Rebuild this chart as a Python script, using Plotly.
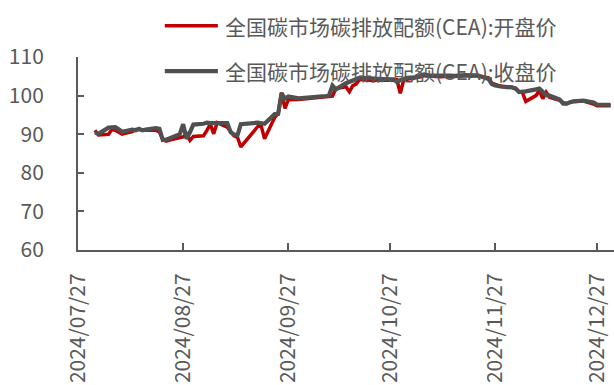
import plotly.graph_objects as go

# Trading days of the national carbon market (CEA), Aug-Dec 2024
trade_dates = [
    "2024-08-01", "2024-08-02", "2024-08-05", "2024-08-06", "2024-08-07", "2024-08-08", "2024-08-09",
    "2024-08-12", "2024-08-13", "2024-08-14", "2024-08-15", "2024-08-16", "2024-08-19", "2024-08-20",
    "2024-08-21", "2024-08-22", "2024-08-23", "2024-08-26", "2024-08-27", "2024-08-28", "2024-08-29",
    "2024-08-30",
    "2024-09-02", "2024-09-03", "2024-09-04", "2024-09-05", "2024-09-06", "2024-09-09", "2024-09-10",
    "2024-09-11", "2024-09-12", "2024-09-13", "2024-09-18", "2024-09-19", "2024-09-20", "2024-09-23",
    "2024-09-24", "2024-09-25", "2024-09-26", "2024-09-27", "2024-09-30",
    "2024-10-08", "2024-10-09", "2024-10-10", "2024-10-11", "2024-10-14", "2024-10-15", "2024-10-16",
    "2024-10-17", "2024-10-18", "2024-10-21", "2024-10-22", "2024-10-23", "2024-10-24", "2024-10-25",
    "2024-10-28", "2024-10-29", "2024-10-30", "2024-10-31",
    "2024-11-01", "2024-11-04", "2024-11-05", "2024-11-06", "2024-11-07", "2024-11-08", "2024-11-11",
    "2024-11-12", "2024-11-13", "2024-11-14", "2024-11-15", "2024-11-18", "2024-11-19", "2024-11-20",
    "2024-11-21", "2024-11-22", "2024-11-25", "2024-11-26", "2024-11-27", "2024-11-28", "2024-11-29",
    "2024-12-02", "2024-12-03", "2024-12-04", "2024-12-05", "2024-12-06", "2024-12-09", "2024-12-10",
    "2024-12-11", "2024-12-12", "2024-12-13", "2024-12-16", "2024-12-17", "2024-12-18", "2024-12-19",
    "2024-12-20", "2024-12-23", "2024-12-24", "2024-12-25", "2024-12-26", "2024-12-27", "2024-12-30",
    "2024-12-31",
]

# Opening price (yuan/t)
open_price = [
    91.0, 89.8, 90.0, 91.2, 91.0, 90.4, 90.0, 90.7, 91.2, 91.2, 91.1, 91.0, 91.0, 90.6, 88.6, 88.2,
    88.5, 89.0, 89.3, 90.1, 88.4, 89.4,
    89.6, 91.0, 92.6, 90.1, 93.0, 91.8, 90.5, 89.6, 89.2, 86.7, 92.0, 92.2, 88.8, 94.4, 95.3, 100.8,
    96.7, 98.9, 99.0,
    99.6, 99.7, 99.9, 101.8, 102.3, 101.0, 102.6, 103.0, 104.2, 104.0, 103.8, 104.0, 104.1, 104.0,
    104.0, 104.1, 100.6, 104.0,
    104.2, 104.6, 104.9, 105.2, 105.0, 105.0, 104.9, 105.0, 105.0, 104.9, 105.0, 105.1, 105.2, 105.0,
    105.2, 105.1, 104.6, 103.2, 102.8, 102.6, 102.4,
    102.2, 101.9, 101.0, 100.8, 98.5, 100.0, 101.3, 99.2, 100.9, 99.6, 98.8, 98.2, 97.9, 98.2, 98.5,
    98.6, 98.4, 98.0, 97.8, 97.4, 97.3, 97.4,
]

# Closing price (yuan/t)
close_price = [
    90.5, 90.1, 91.7, 91.8, 91.8, 91.3, 90.6, 91.2, 91.0, 91.4, 91.0, 91.2, 91.6, 91.4, 88.5, 88.6,
    88.9, 90.0, 92.6, 88.8, 90.5, 92.5,
    92.7, 93.0, 92.9, 92.9, 93.1, 92.9, 90.5, 89.9, 89.7, 92.6, 93.0, 92.8, 92.7, 95.2, 95.3, 100.6,
    99.2, 99.8, 99.3,
    99.9, 100.1, 102.6, 101.6, 103.2, 103.6, 103.9, 104.2, 104.6, 104.5, 104.4, 104.3, 104.2, 104.3,
    104.2, 103.5, 104.0, 104.4,
    104.6, 104.8, 105.1, 105.5, 105.3, 105.2, 105.2, 105.1, 105.2, 105.2, 105.1, 105.3, 105.3, 105.4,
    105.3, 105.2, 104.3, 103.0, 102.6, 102.4, 102.3,
    102.1, 101.8, 100.9, 100.9, 101.1, 101.6, 101.8, 101.0, 100.1, 100.0, 99.0, 97.9, 97.9, 98.3,
    98.5, 98.7, 98.6, 98.4, 98.2, 97.7, 97.6, 97.6,
]

series_names = ["全国碳市场碳排放配额(CEA):开盘价", "全国碳市场碳排放配额(CEA):收盘价"]
series_colors = ["#C00000", "#505050"]
series_widths = [3.5, 4.2]

FONT = "Noto Sans CJK SC"
TEXT = "#595959"
AXIS = "#5a5a5a"

fig = go.Figure()
for name, vals, color, w in zip(series_names, [open_price, close_price], series_colors, series_widths):
    fig.add_trace(go.Scatter(
        x=trade_dates, y=vals, mode="lines", name=name,
        line=dict(color=color, width=w), showlegend=False,
    ))

# Hand-drawn legend: long line samples with labels, overlapping the top of the plot
legend_y = [1.162, 0.927]
for y, name, color, w in zip(legend_y, series_names, series_colors, series_widths):
    fig.add_shape(type="line", xref="paper", yref="paper",
                  x0=0.162, x1=0.261, y0=y, y1=y,
                  line=dict(color=color, width=w), layer="above")
    fig.add_annotation(xref="paper", yref="paper", x=0.271, y=y,
                       text=name, showarrow=False, xanchor="left", yanchor="middle",
                       font=dict(family=FONT, size=21, color=TEXT))

fig.update_layout(
    width=614, height=385,
    margin=dict(l=78, r=0, t=57, b=135),
    paper_bgcolor="white", plot_bgcolor="white",
    font=dict(family=FONT, size=21, color=TEXT),
)
fig.update_xaxes(
    type="date", range=["2024-07-27", "2025-01-01"],
    tick0="2024-07-27", dtick="M1", tickformat="%Y/%m/%d", tickangle=-90,
    ticks="inside", ticklen=7, tickwidth=1.5, tickcolor=AXIS,
    showline=True, linecolor=AXIS, linewidth=2, showgrid=False, zeroline=False,
    ticklabelstandoff=13,
    tickfont=dict(family=FONT, size=21, color=TEXT),
)
fig.update_yaxes(
    range=[60, 110], dtick=10, tick0=60,
    ticks="inside", ticklen=6, tickwidth=1.5, tickcolor=AXIS,
    showline=True, linecolor=AXIS, linewidth=2, showgrid=False, zeroline=False,
    ticklabelstandoff=28,
    tickfont=dict(family=FONT, size=21, color=TEXT),
)

fig.write_html("out.html")
